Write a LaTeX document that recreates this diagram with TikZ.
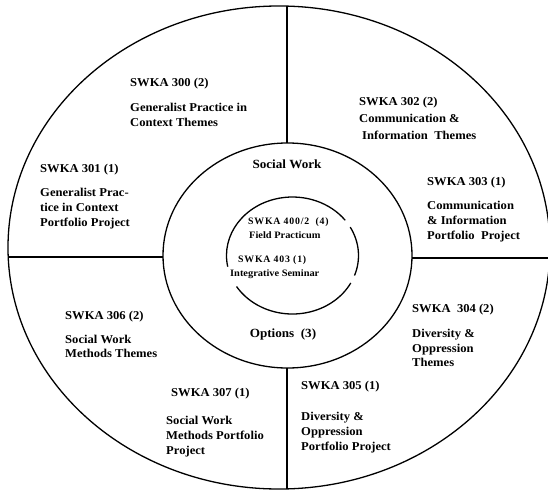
\documentclass[tikz,border=0pt]{standalone}
\usepackage{fontspec}
\setmainfont{Liberation Serif}
\newfontfamily\ringfont{Liberation Serif}[FakeStretch=1.05]
\newfontfamily\corefont{Liberation Serif}[FakeStretch=1.06]
\newfontfamily\coreheadfont{Liberation Serif}[LetterSpace=8]

\tikzset{
  ring/.style={line width=1.3pt},
  head/.style={anchor=north west, inner sep=0pt,
    font=\ringfont\bfseries\fontsize{12}{14}\selectfont},
  body/.style={anchor=north west, inner sep=0pt, align=left,
    font=\ringfont\bfseries\fontsize{12}{#1}\selectfont},
  body/.default=15,
  centre/.style={anchor=north, inner sep=0pt,
    font=\ringfont\bfseries\fontsize{12.5}{14}\selectfont},
  corehead/.style={anchor=north west, inner sep=0pt,
    font=\coreheadfont\bfseries\fontsize{9.8}{11}\selectfont},
  corebody/.style={anchor=north west, inner sep=0pt,
    font=\corefont\bfseries\fontsize{9.8}{11}\selectfont},
}

\begin{document}
\begin{tikzpicture}[x=1pt,y=-1pt]
\useasboundingbox (0,0) rectangle (548,492);

% three rings
\draw[ring] (279,247.5) ellipse [x radius=271, y radius=241.5];
\draw[ring] (287.5,255.5) ellipse [x radius=124.5, y radius=112.5];
% innermost ring, broken in three places
\draw[ring] ([shift={(-29:66 and 58.5)}]292.5,255.5)
  arc[start angle=-29, end angle=20, x radius=66, y radius=58.5];
\draw[ring] ([shift={(28:66 and 58.5)}]292.5,255.5)
  arc[start angle=28, end angle=148, x radius=66, y radius=58.5];
\draw[ring] ([shift={(169:66 and 58.5)}]292.5,255.5)
  arc[start angle=169, end angle=323, x radius=66, y radius=58.5];

% dividers between the outer ring and the middle ring
\coordinate (outerN) at (287,6.1);
\coordinate (midN)   at (287,143);
\coordinate (midS)   at (287,368);
\coordinate (outerS) at (287,488.9);
\coordinate (outerW) at (8.2,257);
\coordinate (midW)   at (163,257);
\coordinate (midE)   at (412,258);
\coordinate (outerE) at (551,258);
\draw[ring] (outerN) -- (midN);
\draw[ring] (midS) -- (outerS);
\draw[ring] (outerW) -- (midW);
\draw[ring] (midE) -- (outerE);

% outer ring: courses and themes
\node[head] (h300) at (130,78) {SWKA 300 (2)};
\node[body=15] (b300) at (130,103) {Generalist Practice in\\Context Themes};

\node[head] (h301) at (40,164) {SWKA 301 (1)};
\node[body=15] (b301) at (40,188) {Generalist Prac-\\tice in Context\\Portfolio Project};

\node[head] (h302) at (359,97) {SWKA 302 (2)};
\node[body=17] (b302) at (359,114) {Communication \&\\\hspace*{3pt}Information\ \ Themes};

\node[head] (h303) at (427,177) {SWKA 303 (1)};
\node[body=15] (b303) at (427,201) {Communication\\\& Information\\Portfolio\ \ Project};

\node[head] (h304) at (412,304) {SWKA\ \ 304 (2)};
\node[body=14.5] (b304) at (412,329) {Diversity \&\\Oppression\\Themes};

\node[head] (h305) at (301,381) {SWKA 305 (1)};
\node[body=15] (b305) at (301,412) {Diversity \&\\Oppression\\Portfolio Project};

\node[head] (h306) at (65,311) {SWKA 306 (2)};
\node[body=14] (b306) at (65,335) {Social Work\\Methods Themes};

\node[head] (h307) at (171,388) {SWKA 307 (1)};
\node[body=15] (b307) at (166,416) {Social Work\\Methods Portfolio\\Project};

% middle ring
\node[centre] (sw)  at (287,160) {Social Work};
\node[centre] (opt) at (283,329) {Options\ \ (3)};

% centre
\node[corehead] (h400) at (248,217) {SWKA 400/2\ \ (4)};
\node[corebody] (b400) at (249,231) {Field Practicum};
\node[corehead] (h403) at (238,255) {SWKA 403 (1)};
\node[corebody] (b403) at (230,269) {Integrative Seminar};
\end{tikzpicture}
\end{document}
